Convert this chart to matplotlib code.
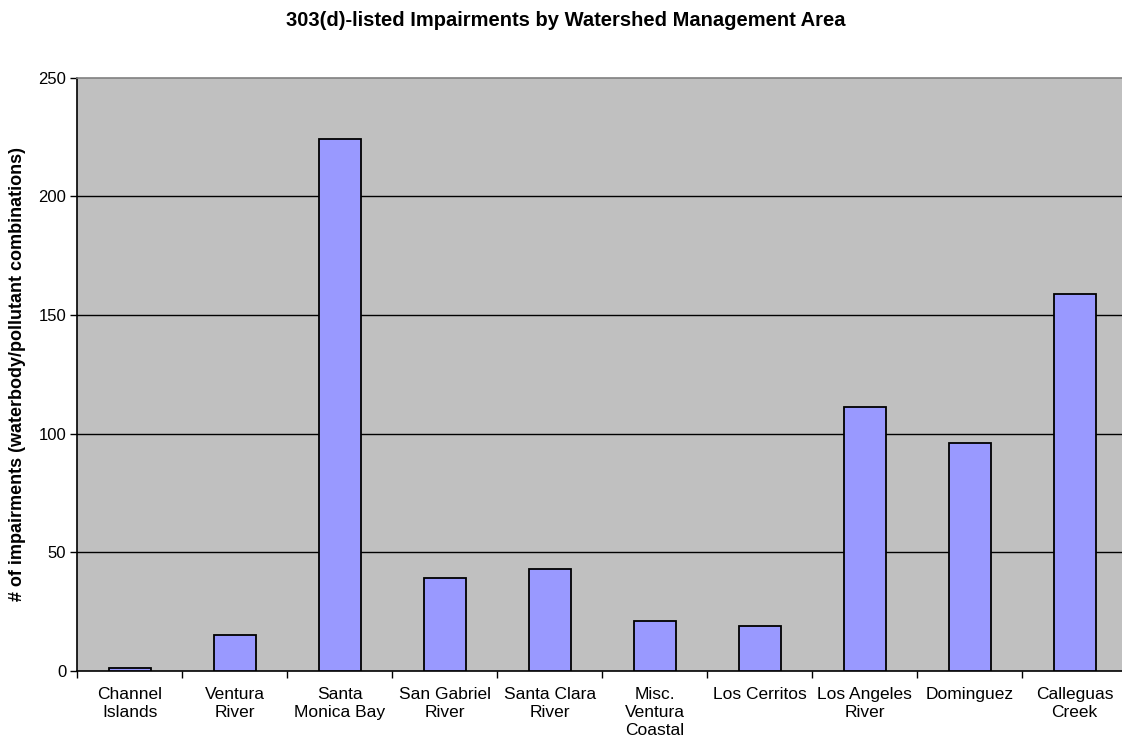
import matplotlib
matplotlib.use("Agg")
import matplotlib.pyplot as plt
import numpy as np

categories = ["Channel\nIslands", "Ventura\nRiver", "Santa\nMonica Bay", "San Gabriel\nRiver",
              "Santa Clara\nRiver", "Misc.\nVentura\nCoastal", "Los Cerritos", "Los Angeles\nRiver",
              "Dominguez", "Calleguas\nCreek"]
values = [1, 15, 224, 39, 43, 21, 19, 111, 96, 159]
yticks = [0, 50, 100, 150, 200, 250]

plt.rcParams['font.family'] = ['Liberation Sans', 'DejaVu Sans']

fig = plt.figure(figsize=(11.22, 7.44), dpi=100)
ax = fig.add_axes([77.3/1122, 1 - 670.7/744, (1127 - 77.3)/1122, (670.7 - 77.7)/744])
ax.set_facecolor('#c0c0c0')

x = np.arange(len(categories))
ax.bar(x, values, width=0.40, color='#9999ff', edgecolor='black', linewidth=1.3, zorder=3)

ax.set_xlim(-0.5, len(categories) - 0.5)
ax.set_ylim(0, 250)
ax.set_yticks(yticks)
ax.set_yticklabels([str(t) for t in yticks], fontsize=12)
for t in yticks[1:-1]:
    ax.axhline(t, color='black', linewidth=1.0, zorder=1)

ax.set_xticks(x)
ax.set_xticklabels(categories, fontsize=12.5, linespacing=1.25, va='top')
ax.set_xticks(np.arange(len(categories) + 1) - 0.5, minor=True)
ax.tick_params(axis='x', which='major', length=0, pad=12)
ax.tick_params(axis='x', which='minor', length=5, width=1, color='black', direction='out')
ax.tick_params(axis='y', length=5, width=1, direction='out', pad=3)

ax.spines['left'].set_color('black')
ax.spines['bottom'].set_color('black')
ax.spines['top'].set_color('#808080')
ax.spines['right'].set_color('#808080')
for s in ax.spines.values():
    s.set_linewidth(1.2)

ax.set_ylabel('# of impairments (waterbody/pollutant combinations)', fontsize=13,
              fontweight='bold', labelpad=9)
fig.text(566/1122, 1 - 20/744, '303(d)-listed Impairments by Watershed Management Area',
         ha='center', va='center', fontsize=14.5, fontweight='bold')

fig.savefig('out.png', dpi=100)
